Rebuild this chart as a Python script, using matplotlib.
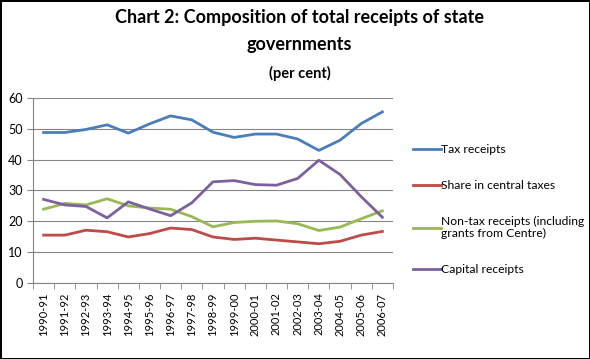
import numpy as np
import matplotlib.pyplot as plt

years = ['1990-91', '1991-92', '1992-93', '1993-94', '1994-95', '1995-96', '1996-97',
         '1997-98', '1998-99', '1999-00', '2000-01', '2001-02', '2002-03', '2003-04',
         '2004-05', '2005-06', '2006-07']
tax = [48.8, 48.8, 49.8, 51.3, 48.6, 51.6, 54.2, 52.9, 48.9, 47.2, 48.3, 48.3, 46.7, 43.0, 46.3, 51.7, 55.5]
central = [15.5, 15.5, 17.1, 16.6, 14.9, 16.0, 17.8, 17.3, 14.9, 14.1, 14.5, 13.9, 13.3, 12.7, 13.5, 15.5, 16.7]
nontax = [23.9, 25.8, 25.3, 27.3, 25.0, 24.3, 23.9, 21.5, 18.2, 19.6, 20.0, 20.1, 19.2, 17.0, 18.1, 20.8, 23.4]
capital = [27.1, 25.3, 24.8, 21.1, 26.3, 24.0, 21.8, 26.0, 32.8, 33.2, 31.9, 31.7, 33.9, 39.8, 35.2, 28.0, 21.3]

names = ['Tax receipts', 'Share in central taxes',
         'Non-tax receipts (including\ngrants from Centre)', 'Capital receipts']
colors = ['#4a7ebb', '#be4b48', '#98b954', '#7d60a0']

plt.rcParams['font.family'] = ['Lato', 'DejaVu Sans']

fig = plt.figure(figsize=(5.9, 3.59), dpi=100)
fig.patch.set_edgecolor('black')
fig.patch.set_linewidth(2)
ax = fig.add_axes([0.056, 0.212, 0.61, 0.515])

x = np.arange(len(years))
for vals, name, c in zip([tax, central, nontax, capital], names, colors):
    ax.plot(x, vals, color=c, lw=2, label=name)

ax.set_xlim(-0.5, len(years) - 0.5)
ax.set_ylim(0, 60)
ax.set_yticks(range(0, 61, 10))
ax.set_xticks(x)
ax.set_xticklabels(years, rotation=90, fontsize=8)
ax.set_xticks(np.arange(-0.5, len(years), 1), minor=True)
ax.tick_params(axis='x', which='major', length=0, pad=7)
ax.tick_params(axis='x', which='minor', length=4, color='#868686')
ax.tick_params(axis='y', labelsize=9, length=4, color='#868686')
ax.grid(axis='y', color='#868686', lw=0.8)
ax.set_axisbelow(True)
for s in ['top', 'right']:
    ax.spines[s].set_visible(False)
ax.spines['left'].set_color('#868686')
ax.spines['bottom'].set_color('#868686')

fig.text(0.508, 0.975, 'Chart 2: Composition of total receipts of state\ngovernments',
         ha='center', va='top', fontsize=13, fontweight='bold', linespacing=1.75)
fig.text(0.508, 0.815, '(per cent)', ha='center', va='top', fontsize=10.5, fontweight='bold')

ax.legend(loc='upper left', bbox_to_anchor=(1.025, 0.81), frameon=False, fontsize=8.7,
          handlelength=2.3, handletextpad=0.05, labelspacing=2.05)

fig.savefig('out.png', dpi=100)
